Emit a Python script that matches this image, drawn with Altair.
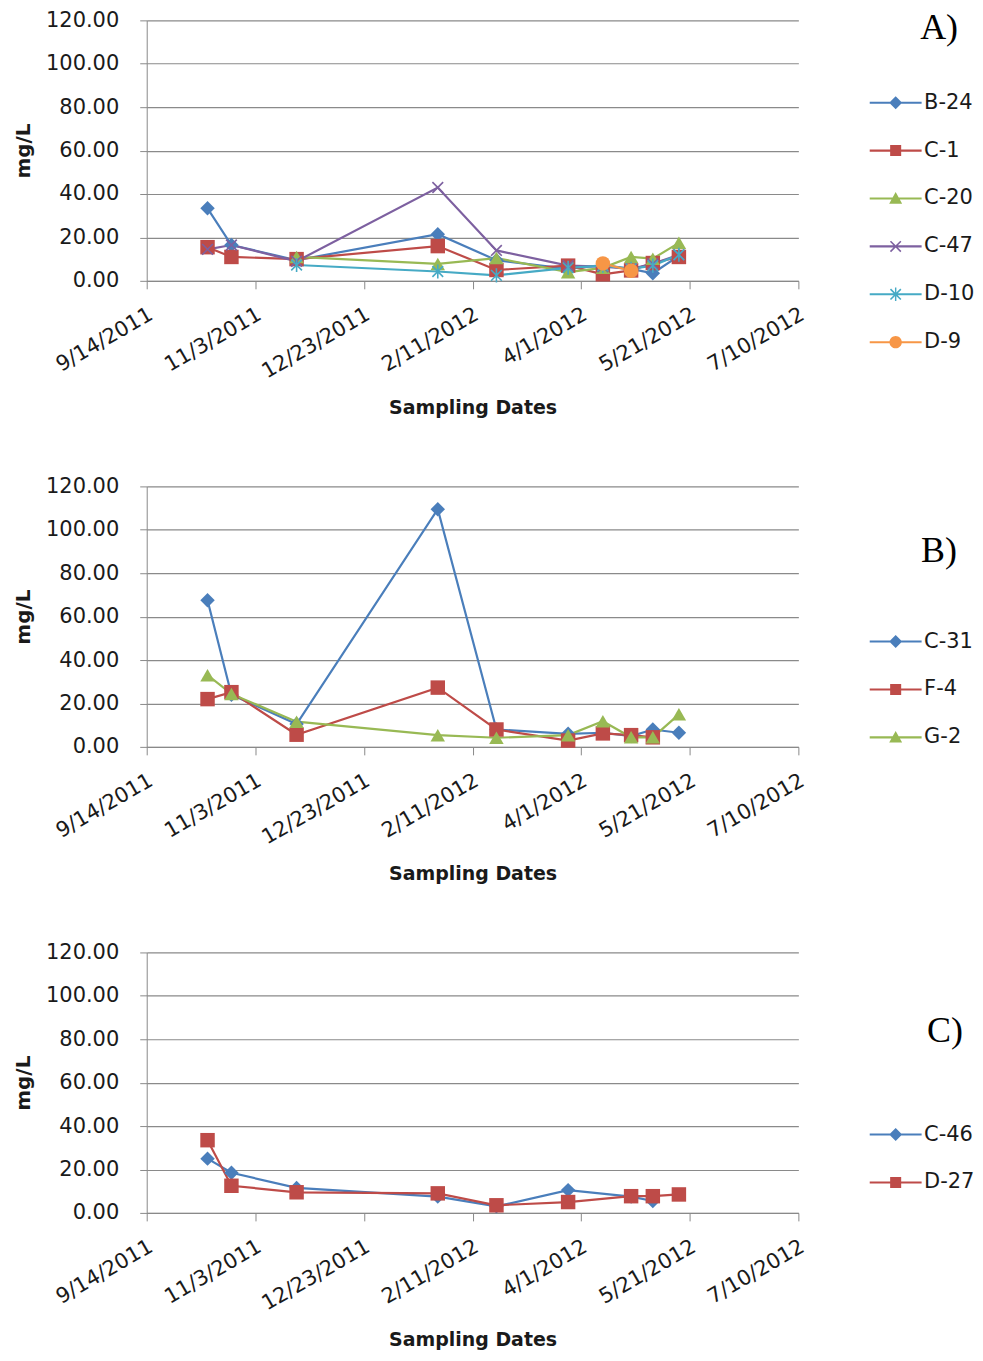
import altair as alt
import pandas as pd

# ---- data ----
dates = ["2011-10-12", "2011-10-23", "2011-11-22", "2012-01-26", "2012-02-22",
         "2012-03-26", "2012-04-11", "2012-04-24", "2012-05-04", "2012-05-16"]

tick_dates = [(2011, 9, 14), (2011, 11, 3), (2011, 12, 23), (2012, 2, 11),
              (2012, 4, 1), (2012, 5, 21), (2012, 7, 10)]

# Panel A
a_series = ["B-24", "C-1", "C-20", "C-47", "D-10", "D-9"]
a_b24 = [33.4, 16.5, 9.5, 21.5, 9.5, 5.5, 7.2, 5.5, 3.5, 11.5]
a_c1 = [15.5, 11.0, 10.0, 16.0, 5.0, 7.0, 3.0, 4.8, 8.2, 11.0]
a_c20 = [None, None, 11.0, 7.8, 10.5, 4.0, 6.0, 11.0, 10.2, 17.5]
a_c47 = [14.5, 16.5, 9.0, 43.0, 14.0, 7.0, 6.5, 5.5, 7.8, 12.0]
a_d10 = [None, None, 7.3, 4.3, 2.5, 6.0, 7.0, 5.5, 7.0, 12.0]
a_d9 = [None, None, None, None, None, None, 8.0, 4.6, None, None]

# Panel B
b_series = ["C-31", "F-4", "G-2"]
b_c31 = [67.5, 24.0, 10.5, 109.5, 8.0, 6.0, 6.5, 5.0, 8.0, 6.5]
b_f4 = [22.0, 25.2, 5.6, 27.3, 8.0, 2.9, 6.2, 5.4, 4.4, None]
b_g2 = [33.0, 24.4, 11.6, 5.4, 4.2, 5.4, 11.8, 4.4, 4.4, 15.0]

# Panel C
c_series = ["C-46", "D-27"]
c_c46 = [25.0, 18.5, 11.5, 7.5, 3.0, 10.5, None, 7.5, 5.5, None]
c_d27 = [33.5, 12.5, 9.5, 9.0, 3.5, 5.0, None, 7.7, 7.7, 8.5]

BLUE, RED, GREEN, PURPLE, TEAL, ORANGE = "#4A7EBB", "#BE4B48", "#98B954", "#7D60A0", "#46AAC5", "#F79646"

FONT = "DejaVu Sans"
GRID = "#8A8A8A"
TXT = "#1a1a1a"

# marker definitions (shape on chart, filled?, legend path)
LINE = "M-4,-0.16H4V0.16H-4Z"
MARKERS = {
    "diamond": ("diamond", True, LINE + "M-1,0L0,-1L1,0L0,1Z"),
    "square": ("square", True, LINE + "M-0.85,-0.85H0.85V0.85H-0.85Z"),
    "triangle": ("triangle-up", True, LINE + "M0,-1L1,0.8H-1Z"),
    "x": ("M-0.8,-0.8L0.8,0.8M-0.8,0.8L0.8,-0.8", False,
          LINE + "M-0.715,-0.885L0.885,0.715L0.715,0.885L-0.885,-0.715Z"
                 "M-0.885,0.715L0.715,-0.885L0.885,-0.715L-0.715,0.885Z"),
    "star": ("M-0.8,-0.8L0.8,0.8M-0.8,0.8L0.8,-0.8M0,-1.05L0,1.05", False,
             LINE + "M-0.715,-0.885L0.885,0.715L0.715,0.885L-0.885,-0.715Z"
                    "M-0.885,0.715L0.715,-0.885L0.885,-0.715L-0.715,0.885Z"
                    "M-0.11,-1.05H0.11V1.05H-0.11Z"),
    "circle": ("circle", True, LINE + "M-0.95,0A0.95,0.95 0 1,1 0.95,0A0.95,0.95 0 1,1 -0.95,0Z"),
}

x_enc = alt.X(
    "date:T",
    scale=alt.Scale(type="utc",
                    domain=[alt.DateTime(year=2011, month=9, date=14, utc=True),
                            alt.DateTime(year=2012, month=7, date=10, utc=True)]),
    axis=alt.Axis(
        values=[alt.DateTime(year=y, month=m, date=d, utc=True) for y, m, d in tick_dates],
        labelExpr="utcFormat(datum.value, '%-m/%-d/%Y')",
        labelAngle=-30, labelAlign="right", labelBaseline="middle", labelPadding=24,
        labelOffset=4, labelFont=FONT, labelFontSize=21, labelColor=TXT, grid=False,
        domainColor=GRID, tickColor=GRID, tickSize=8,
        title="Sampling Dates", titleFont=FONT, titleFontSize=19, titleFontWeight="bold",
        titleColor=TXT, titlePadding=17, labelOverlap=False, labelFlush=False,
    ),
)
y_enc = alt.Y(
    "value:Q",
    scale=alt.Scale(domain=[0, 120]),
    axis=alt.Axis(
        values=[0, 20, 40, 60, 80, 100, 120], format=".2f", labelFont=FONT,
        labelFontSize=21, labelColor=TXT, labelPadding=21, tickSize=7,
        tickColor=GRID, domainColor=GRID, gridColor=GRID, gridWidth=1.2,
        title="mg/L", titleFont=FONT, titleFontSize=20, titleFontWeight="bold",
        titleColor=TXT, titlePadding=12,
    ),
)


def panel(series, values, colors, markers, label, leg_y, label_xy):
    rows = []
    for s, vals in zip(series, values):
        for d, v in zip(dates, vals):
            if v is not None:
                rows.append({"series": s, "date": d, "value": v})
    df = pd.DataFrame(rows)
    base = alt.Chart(df)
    layers = []
    for s, c in zip(series, colors):
        layers.append(base.transform_filter(alt.datum.series == s)
                      .mark_line(color=c, strokeWidth=2.2)
                      .encode(x=x_enc, y=y_enc))
    for s, c, m in zip(series, colors, markers):
        shp, filled, _ = MARKERS[m]
        if filled:
            props = dict(shape=shp, filled=True, color=c, size=210, opacity=1)
        else:
            props = dict(shape=shp, filled=False, color=c, size=180, strokeWidth=1.6, opacity=1)
        layers.append(base.transform_filter(alt.datum.series == s)
                      .mark_point(**props)
                      .encode(x=x_enc, y=y_enc))
    leg = alt.Legend(orient="none", legendX=740, legendY=leg_y, title=None,
                     symbolSize=169, labelFont=FONT, labelFontSize=21, labelColor=TXT,
                     labelOffset=18, rowPadding=26, symbolOpacity=1, symbolStrokeWidth=0,
                     direction="vertical", padding=0)
    layers.append(base.mark_point(filled=True, opacity=0).encode(
        x=x_enc, y=y_enc,
        color=alt.Color("series:N", scale=alt.Scale(domain=series, range=colors), legend=leg),
        shape=alt.Shape("series:N", scale=alt.Scale(domain=series,
                                                    range=[MARKERS[m][2] for m in markers]),
                        legend=leg),
    ))
    layers.append(alt.Chart(pd.DataFrame({"t": [label]})).mark_text(
        font="Liberation Serif", fontSize=36, color="black", align="center", baseline="middle"
    ).encode(text="t:N", x=alt.value(label_xy[0]), y=alt.value(label_xy[1])))
    return alt.layer(*layers).properties(width=653, height=261)


pA = panel(a_series, [a_b24, a_c1, a_c20, a_c47, a_d10, a_d9],
           [BLUE, RED, GREEN, PURPLE, TEAL, ORANGE],
           ["diamond", "square", "triangle", "x", "star", "circle"], "A)", 72, (794, 8))
pB = panel(b_series, [b_c31, b_f4, b_g2], [BLUE, RED, GREEN],
           ["diamond", "square", "triangle"], "B)", 145, (794, 65))
pC = panel(c_series, [c_c46, c_d27], [BLUE, RED],
           ["diamond", "square"], "C)", 172, (800, 79))

chart = alt.vconcat(pA, pB, pC, spacing=57).resolve_scale(
    color="independent", shape="independent"
).resolve_legend(color="independent", shape="independent").properties(
    padding={"left": 5, "top": 0, "right": 0, "bottom": 0}
).configure_view(stroke=None)

chart.save("out.html", embed_options={"renderer": "svg", "actions": False})
